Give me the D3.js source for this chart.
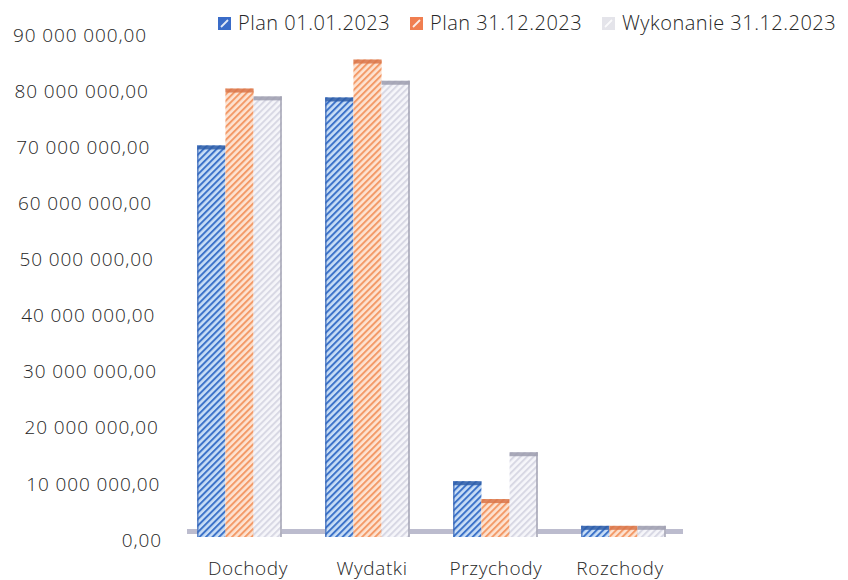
<!DOCTYPE html>
<html><head><meta charset="utf-8">
<script src="https://cdn.jsdelivr.net/npm/d3@7"></script>
<style>body{margin:0;background:#fff}svg{display:block}text{font-family:"Open Sans",sans-serif;font-weight:300;fill:#262626}</style>
</head><body><svg id="c" width="848" height="580"></svg>
<script>
const categories = ["Dochody","Wydatki","Przychody","Rozchody"];
const seriesNames = ["Plan 01.01.2023","Plan 31.12.2023","Wykonanie 31.12.2023"];
const plan0101 = [70200000, 78800000, 10000000, 2000000];
const plan3112 = [80400000, 85600000, 6800000, 2000000];
const wykonanie = [79000000, 81800000, 15200000, 2000000];
const yTicks = [0,10000000,20000000,30000000,40000000,50000000,60000000,70000000,80000000,90000000];

const series = [plan0101, plan3112, wykonanie];
const styles = [
  {bg:"#c9def6", st:"#3d73c9", top:"#2f5ea8", edge:"#3a68b8"},
  {bg:"#fde3d2", st:"#f39a68", top:"#d9764a", edge:"#f0a070"},
  {bg:"#f6f6fa", st:"#d8d8e4", top:"#9c9cae", edge:"#a4a4b4"}
];

const svg = d3.select("#c");
const defs = svg.append("defs");
styles.forEach((s,i)=>{
  const p = defs.append("pattern").attr("id","p"+i).attr("patternUnits","userSpaceOnUse")
    .attr("width",4.6).attr("height",4.6).attr("patternTransform","rotate(45)");
  p.append("rect").attr("width",4.6).attr("height",4.6).attr("fill",s.bg);
  p.append("rect").attr("width",2).attr("height",4.6).attr("fill",s.st);
});

const y = d3.scaleLinear().domain([0,90000000]).range([537,35]);
const yLab = d3.scaleLinear().domain([0,90000000]).range([540,35]);
const xLabEnd = d3.scaleLinear().domain([0,90000000]).range([162,147]);
const x0 = d3.scaleBand().domain(categories).range([175.5,687.5]).paddingInner(0.34).paddingOuter(0.17);
const x1 = d3.scaleBand().domain([0,1,2]).range([0,x0.bandwidth()]);
const xCat = d3.scalePoint().domain(categories).range([248,620]);

const fmt = v => {
  const s = d3.format(",.2f")(v);
  return s.replace(/,/g," ").replace(/\.(\d\d)$/,",$1");
};

// y labels
svg.append("g").selectAll("text").data(yTicks).join("text")
  .attr("x",d=>xLabEnd(d)).attr("y",d=>yLab(d)).attr("dy","0.35em")
  .attr("text-anchor","end").attr("font-size",19).attr("letter-spacing",0.9)
  .text(fmt);

// floor
svg.append("rect").attr("x",187).attr("y",529).attr("width",496).attr("height",5).attr("fill","#bcbcce");

// bars
const g = svg.append("g");
categories.forEach((c,ci)=>{
  series.forEach((arr,si)=>{
    const s = styles[si];
    const bx = x0(c)+x1(si), bw = x1.bandwidth(), by = y(arr[ci]);
    g.append("rect").attr("x",bx).attr("y",by).attr("width",bw).attr("height",y(0)-by).attr("fill",`url(#p${si})`);
    g.append("rect").attr("x",bx).attr("y",by).attr("width",bw).attr("height",4).attr("fill",s.top).attr("opacity",0.85);
    if(si===0) g.append("rect").attr("x",bx).attr("y",by).attr("width",1.2).attr("height",y(0)-by).attr("fill",s.edge);
    if(si===2) g.append("rect").attr("x",bx+bw-1.5).attr("y",by).attr("width",1.5).attr("height",y(0)-by).attr("fill",s.edge);
  });
});

// category labels
svg.append("g").selectAll("text").data(categories).join("text")
  .attr("x",d=>xCat(d)).attr("y",568).attr("dy","0.35em").attr("text-anchor","middle")
  .attr("font-size",19).attr("letter-spacing",0.6).text(d=>d);

// legend
const legX = [218, 410, 602];
const swatch = ["#3a6cc8","#f07e50","#e4e4ea"];
const lg = svg.append("g");
seriesNames.forEach((n,i)=>{
  lg.append("rect").attr("x",legX[i]).attr("y",17).attr("width",13).attr("height",13).attr("fill",swatch[i]);
  lg.append("line").attr("x1",legX[i]+3).attr("y1",27).attr("x2",legX[i]+10).attr("y2",20).attr("stroke","#fff").attr("stroke-width",1.8).attr("opacity",0.85);
  lg.append("text").attr("x",legX[i]+20).attr("y",23).attr("dy","0.35em").attr("font-size",20).attr("letter-spacing",0.5).text(n);
});
</script></body></html>
